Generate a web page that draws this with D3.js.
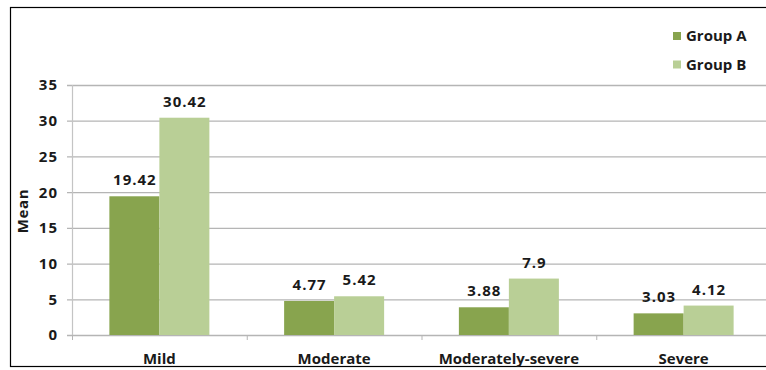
<!DOCTYPE html>
<html><head><meta charset="utf-8">
<script src="https://cdn.jsdelivr.net/npm/d3@7"></script>
<style>
html,body{margin:0;padding:0;background:#fff;}
svg text{font-family:"Open Sans","Liberation Sans",sans-serif;font-weight:bold;fill:#1a1a1a;}
</style></head>
<body>
<svg id="c" width="766" height="370"></svg>
<script>
const categories = ["Mild","Moderate","Moderately-severe","Severe"];
const seriesNames = ["Group A","Group B"];
const groupA = [19.42, 4.77, 3.88, 3.03];
const groupB = [30.42, 5.42, 7.9, 4.12];
const labelsA = ["19.42","4.77","3.88","3.03"];
const labelsB = ["30.42","5.42","7.9","4.12"];
const yTicks = [0,5,10,15,20,25,30,35];
const colors = ["#88a44e","#b9cf96"];

const svg = d3.select("#c");
// outer frame
svg.append("rect").attr("x",10.5).attr("y",7.5).attr("width",800).attr("height",359)
  .attr("fill","none").attr("stroke","#000").attr("stroke-width",1.2);

const pLeft = 72, pRight = 771, pTop = 85, pBottom = 335;
const x = d3.scaleBand().domain(categories).range([pLeft,pRight]).paddingInner(0).paddingOuter(0);
const y = d3.scaleLinear().domain([0,35]).range([pBottom,pTop]);
const barW = 50;

// gridlines
svg.append("g").selectAll("line").data(yTicks).join("line")
  .attr("x1",pLeft-5).attr("x2",766).attr("y1",d=>y(d)+0.5).attr("y2",d=>y(d)+0.5)
  .attr("stroke","#b5b5b5").attr("stroke-width",1.3);

// y axis line
svg.append("line").attr("x1",pLeft+0.5).attr("x2",pLeft+0.5).attr("y1",pTop).attr("y2",pBottom)
  .attr("stroke","#c4c4c4").attr("stroke-width",1.2);

// y tick labels
svg.append("g").selectAll("text").data(yTicks).join("text")
  .attr("x",58).attr("y",d=>y(d)).attr("dy","0.36em").attr("text-anchor","end")
  .attr("font-size",15).attr("letter-spacing",1).text(d=>d);

// category ticks
const bounds = categories.map(c=>x(c)).concat([x(categories[categories.length-1])+x.bandwidth()]);
svg.append("g").selectAll("line").data(bounds).join("line")
  .attr("x1",d=>d+0.5).attr("x2",d=>d+0.5).attr("y1",pBottom).attr("y2",pBottom+5)
  .attr("stroke","#b5b5b5").attr("stroke-width",1);

// bars
const data = categories.map((c,i)=>({c, vals:[groupA[i],groupB[i]], labs:[labelsA[i],labelsB[i]]}));
const g = svg.append("g");
data.forEach(d=>{
  const cx = x(d.c)+x.bandwidth()/2;
  d.vals.forEach((v,j)=>{
    const bx = cx - barW + j*barW;
    g.append("rect").attr("x",bx).attr("y",y(v)).attr("width",barW).attr("height",y(0)-y(v))
      .attr("fill",colors[j]);
    g.append("text").attr("x",bx+barW/2+0.5).attr("y",y(v)-11).attr("text-anchor","middle")
      .attr("font-size",15).attr("letter-spacing",1).text(d.labs[j]);
  });
  svg.append("text").attr("x",cx).attr("y",364).attr("text-anchor","middle")
    .attr("font-size",15).text(d.c);
});

// y axis title
svg.append("text").attr("transform","translate(28,"+((pTop+pBottom)/2+1)+") rotate(-90)")
  .attr("text-anchor","middle").attr("font-size",15).attr("letter-spacing",0.6).text("Mean");

// legend
const lg = svg.append("g");
seriesNames.forEach((s,i)=>{
  const ly = 36 + i*28.5;
  lg.append("rect").attr("x",673).attr("y",ly-4).attr("width",8).attr("height",8).attr("fill",colors[i]);
  lg.append("text").attr("x",686).attr("y",ly).attr("dy","0.36em").attr("font-size",15).text(s);
});
</script>
</body></html>
